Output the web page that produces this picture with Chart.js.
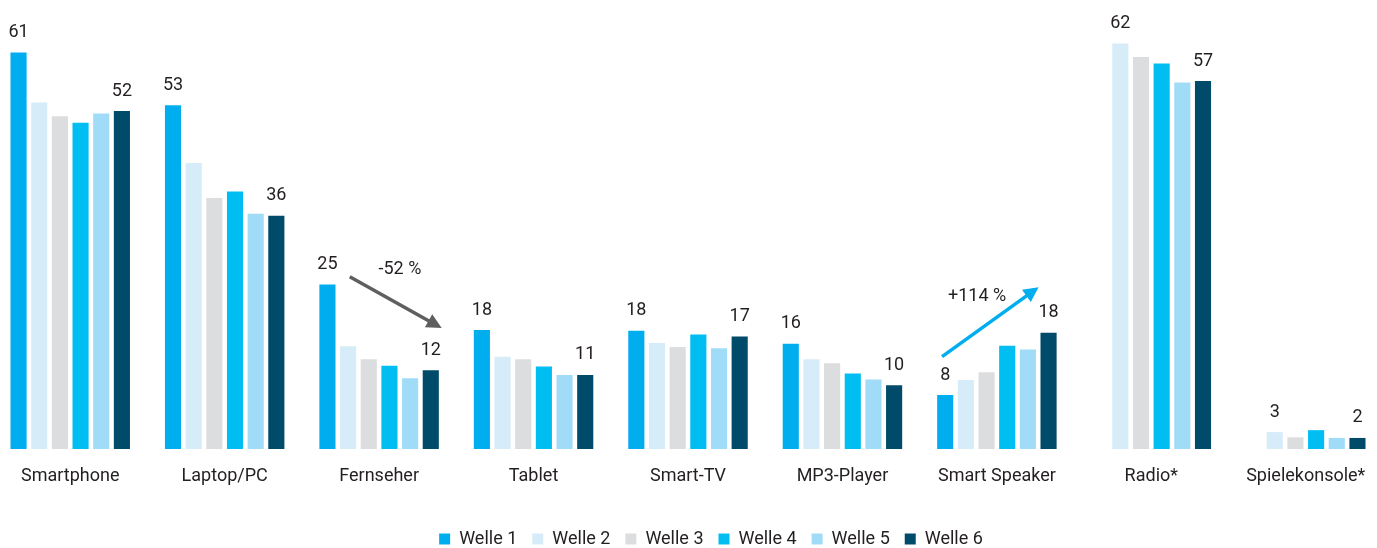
<!DOCTYPE html>
<html>
<head>
<meta charset="utf-8">
<script src="https://cdn.jsdelivr.net/npm/chart.js@4.4.1/dist/chart.umd.min.js"></script>
<style>
  html, body { margin: 0; padding: 0; background: #ffffff; overflow: hidden; }
  #wrap { position: absolute; left: -7px; top: 0; width: 1390px; height: 548px; }
</style>
</head>
<body>
<div id="wrap"><canvas id="c"></canvas></div>
<script>
// ---- data ----
const categories = ['Smartphone', 'Laptop/PC', 'Fernseher', 'Tablet', 'Smart-TV', 'MP3-Player', 'Smart Speaker', 'Radio*', 'Spielekonsole*'];
const seriesNames = ['Welle 1', 'Welle 2', 'Welle 3', 'Welle 4', 'Welle 5', 'Welle 6'];
const welle1 = [61, 52.9, 25.3, 18.3, 18.2, 16.2, 8.3, null, null];
const welle2 = [53.3, 44.0, 15.8, 14.2, 16.3, 13.8, 10.6, 62.4, 2.6];
const welle3 = [51.2, 38.6, 13.8, 13.8, 15.7, 13.2, 11.8, 60.3, 1.8];
const welle4 = [50.2, 39.6, 12.8, 12.7, 17.6, 11.6, 15.9, 59.3, 2.9];
const welle5 = [51.6, 36.2, 10.9, 11.4, 15.5, 10.7, 15.3, 56.4, 1.7];
const welle6 = [52.0, 35.9, 12.1, 11.4, 17.3, 9.8, 17.9, 56.6, 1.7];
const changeLabels = ['-52 %', '+114 %'];

// ---- styles ----
const colors = ['#00AEEF', '#D6ECF9', '#DCDDDF', '#00BEF2', '#A0DCF7', '#004A6A'];
const FONT = 'Roboto, "Liberation Sans", Arial, sans-serif';
const TEXT = '#231F20';

const allSeries = [welle1, welle2, welle3, welle4, welle5, welle6];

// arrows positioned in data space (category index + fraction of category width, value)
const arrows = [
  { cat: 2, from: [-0.19, 26.5], to: [0.405, 18.6], color: '#5F5F5F', text: changeLabels[0], textAt: [0.135, 26.9] },
  { cat: 6, from: [-0.355, 14.2], to: [0.27, 24.9], color: '#00AEEF', text: changeLabels[1], textAt: [-0.128, 22.8] }
];

const valueLabelPlugin = {
  id: 'valueLabels',
  afterDatasetsDraw(chart) {
    const ctx = chart.ctx;
    ctx.save();
    ctx.font = '18px ' + FONT;
    ctx.fillStyle = TEXT;
    ctx.textAlign = 'center';
    ctx.textBaseline = 'alphabetic';
    categories.forEach((c, i) => {
      let first = -1;
      for (let d = 0; d < allSeries.length; d++) { if (allSeries[d][i] != null) { first = d; break; } }
      const last = allSeries.length - 1;
      [first, last].forEach(d => {
        const el = chart.getDatasetMeta(d).data[i];
        ctx.fillText(String(Math.round(allSeries[d][i])), el.x, el.y - 15.5);
      });
    });
    ctx.restore();
  }
};

const arrowPlugin = {
  id: 'arrows',
  afterDatasetsDraw(chart) {
    const ctx = chart.ctx;
    const xs = chart.scales.x, ys = chart.scales.y;
    const cw = xs.getPixelForValue(1) - xs.getPixelForValue(0);
    ctx.save();
    arrows.forEach(a => {
      const cx = xs.getPixelForValue(a.cat);
      const x1 = cx + a.from[0] * cw, y1 = ys.getPixelForValue(a.from[1]);
      const x2 = cx + a.to[0] * cw, y2 = ys.getPixelForValue(a.to[1]);
      const ang = Math.atan2(y2 - y1, x2 - x1);
      const headLen = 15, headHalf = 7.5;
      const bx = x2 - headLen * Math.cos(ang), by = y2 - headLen * Math.sin(ang);
      ctx.strokeStyle = a.color;
      ctx.fillStyle = a.color;
      ctx.lineWidth = 3.5;
      ctx.beginPath();
      ctx.moveTo(x1, y1);
      ctx.lineTo(bx + Math.cos(ang), by + Math.sin(ang));
      ctx.stroke();
      ctx.beginPath();
      ctx.moveTo(x2, y2);
      ctx.lineTo(bx - headHalf * Math.sin(ang), by + headHalf * Math.cos(ang));
      ctx.lineTo(bx + headHalf * Math.sin(ang), by - headHalf * Math.cos(ang));
      ctx.closePath();
      ctx.fill();
      ctx.font = '18px ' + FONT;
      ctx.fillStyle = TEXT;
      ctx.textAlign = 'center';
      ctx.textBaseline = 'alphabetic';
      ctx.fillText(a.text, cx + a.textAt[0] * cw, ys.getPixelForValue(a.textAt[1]));
    });
    ctx.restore();
  }
};

const legendShift = {
  id: 'legendShift',
  afterLayout(chart) {
    const lg = chart.legend;
    if (lg) { lg.left += 23; lg.right += 23; lg.top += 10; lg.bottom += 10; }
  }
};

new Chart(document.getElementById('c'), {
  type: 'bar',
  data: {
    labels: categories,
    datasets: allSeries.map((s, i) => ({
      label: seriesNames[i],
      data: s,
      backgroundColor: colors[i],
      borderWidth: 0,
      categoryPercentage: 0.803,
      barPercentage: 0.78
    }))
  },
  options: {
    responsive: true,
    maintainAspectRatio: false,
    animation: false,
    layout: { padding: { top: 20, bottom: 0, left: 0, right: 0 } },
    plugins: {
      legend: {
        position: 'bottom',
        align: 'center',
        labels: {
          boxWidth: 11,
          boxHeight: 11,
          padding: 15,
          color: TEXT,
          font: { family: FONT, size: 18 }
        }
      },
      tooltip: { enabled: false }
    },
    scales: {
      x: {
        grid: { display: false, drawTicks: false },
        border: { display: false },
        ticks: { color: TEXT, font: { family: FONT, size: 18 }, padding: 17, maxRotation: 0, autoSkip: false },
        afterFit(scale) { scale.height = 56; }
      },
      y: {
        display: false,
        min: 0,
        max: 66
      }
    }
  },
  plugins: [valueLabelPlugin, arrowPlugin, legendShift]
});
</script>
</body>
</html>
